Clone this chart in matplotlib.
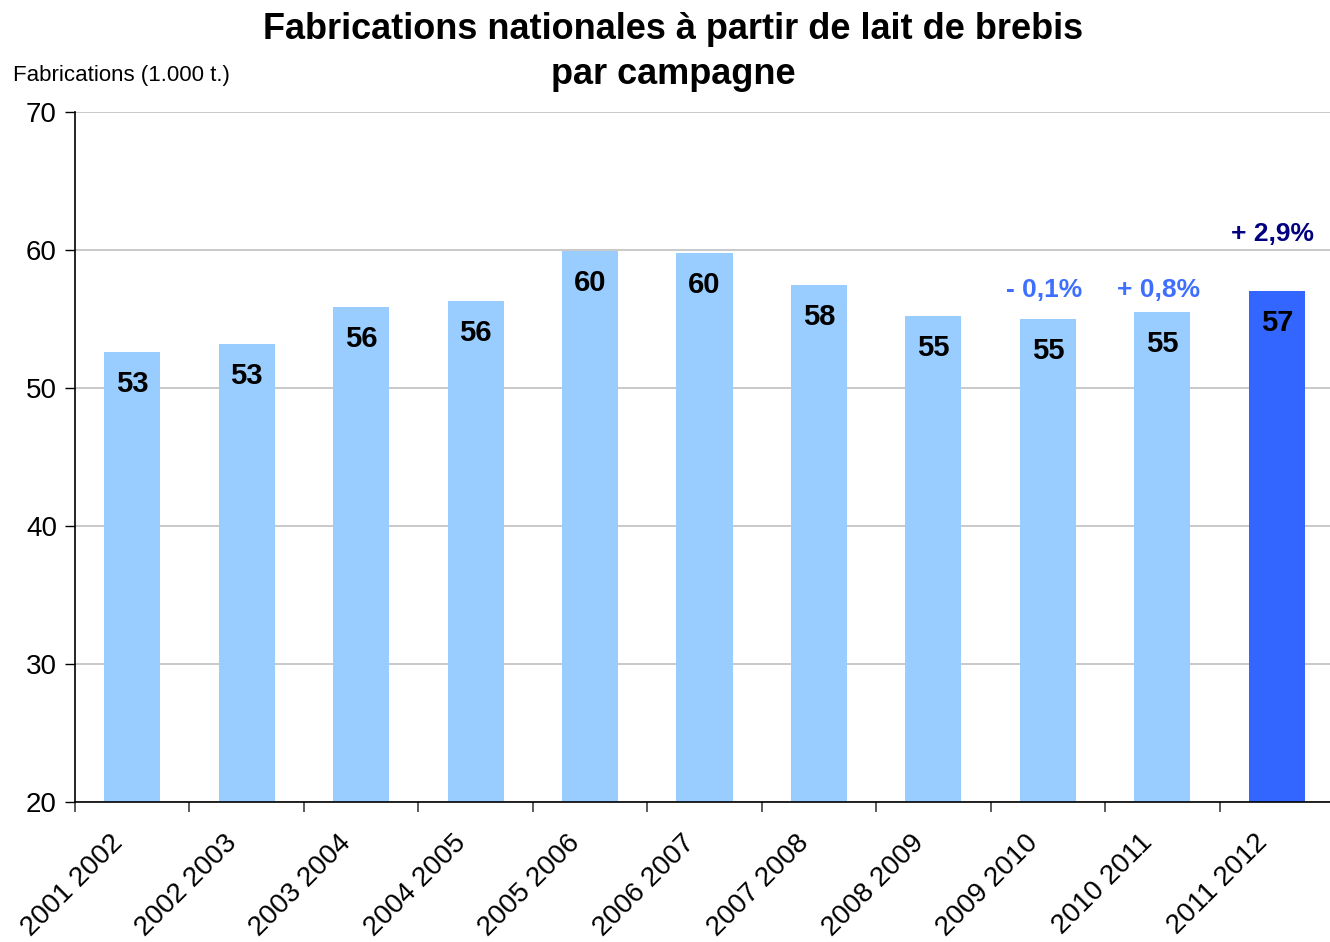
import numpy as np
import matplotlib
matplotlib.use("Agg")
import matplotlib.pyplot as plt

plt.rcParams['font.family'] = ['Liberation Sans', 'DejaVu Sans']

# -------------------------
# Data
# -------------------------
campagnes = [
    "2001 2002", "2002 2003", "2003 2004", "2004 2005", "2005 2006",
    "2006 2007", "2007 2008", "2008 2009", "2009 2010", "2010 2011",
    "2011 2012",
]
fabrications = [52.6, 53.2, 55.9, 56.3, 59.9, 59.8, 57.5, 55.2, 55.0, 55.5, 57.0]
value_labels = ["53", "53", "56", "56", "60", "60", "58", "55", "55", "55", "57"]

# evolution labels on the last three campaigns
evol_idx = [8, 9, 10]
evol_labels = ["- 0,1%", "+ 0,8%", "+ 2,9%"]
evol_offsets = [12, 7, 33]   # points above bar top

light_blue = "#99CCFF"
dark_blue = "#3366FF"
evol_colors = ["#3F6FFF", "#3F6FFF", "#000080"]

# -------------------------
# Figure
# -------------------------
fig = plt.figure(figsize=(13.3, 9.42), dpi=100)
ax = fig.add_axes([75 / 1330, 1 - 802 / 942, 1259 / 1330, 690 / 942])

x = np.arange(len(campagnes))
colors = [light_blue] * (len(campagnes) - 1) + [dark_blue]
ax.bar(x, fabrications, width=0.49, color=colors, zorder=2)

for xi, v, lab in zip(x, fabrications, value_labels):
    ax.annotate(lab, (xi, v), xytext=(0, -13), textcoords="offset points",
                ha="center", va="top", fontsize=21, fontweight="bold",
                color="black", zorder=3)

for i, lab, off, c in zip(evol_idx, evol_labels, evol_offsets, evol_colors):
    ax.annotate(lab, (x[i], fabrications[i]), xytext=(-3, off),
                textcoords="offset points", ha="center", va="bottom",
                fontsize=19, fontweight="bold", color=c)

ax.set_ylim(20, 70)
ax.set_xlim(-0.5, len(campagnes) - 0.5)
ax.set_yticks(np.arange(20, 71, 10))
ax.yaxis.grid(True, color="#C0C0C0", linewidth=1.2, zorder=0)
ax.set_axisbelow(True)

# labels sit a bit left of the bar centres, ticks mark category boundaries
ax.set_xticks(x - 0.2)
ax.set_xticklabels(campagnes, rotation=45, ha="right", va="top",
                   rotation_mode="anchor", fontsize=20)
ax.set_xticks(np.arange(-0.5, len(campagnes), 1), minor=True)
ax.tick_params(axis="x", which="major", length=0, pad=20)
ax.tick_params(axis="x", which="minor", length=7, width=1.2, color="#404040")
ax.tick_params(axis="y", length=7, width=1, labelsize=20, pad=6)

for s in ["top", "right"]:
    ax.spines[s].set_visible(False)
ax.spines["left"].set_linewidth(1.2)
ax.spines["bottom"].set_linewidth(1.2)

fig.text(13 / 1330, 1 - 75 / 942, "Fabrications (1.000 t.)", fontsize=16,
         ha="left", va="center")
fig.text(673 / 1330, 1 - 52 / 942,
         "Fabrications nationales à partir de lait de brebis\npar campagne",
         fontsize=26, fontweight="bold", ha="center", va="center",
         linespacing=1.4)

fig.savefig("out.png", dpi=100)
